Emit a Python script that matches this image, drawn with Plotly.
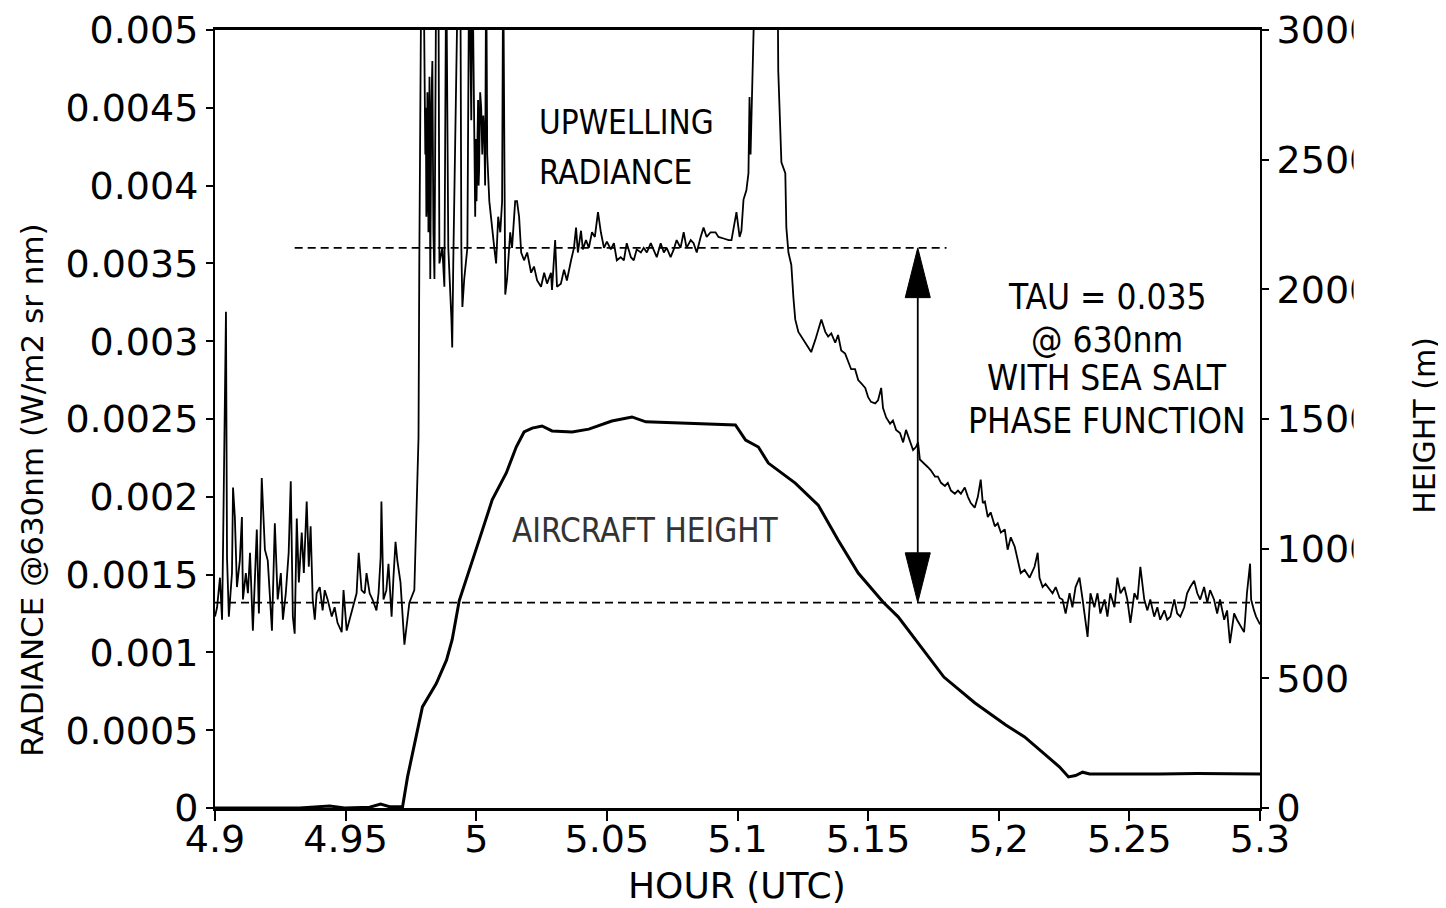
import plotly.graph_objects as go

# ---------------- data ----------------
# Upwelling radiance, low-level leg before the climb
TIME_SURFACE = [
    4.9000, 4.9008, 4.9019, 4.9027, 4.9031, 4.9038, 4.9042, 4.9046, 4.9053, 4.9065,
    4.9069, 4.9076, 4.9084, 4.9095, 4.9103, 4.9107, 4.9118, 4.9126, 4.9134, 4.9145,
    4.9153, 4.9160, 4.9168, 4.9179, 4.9191, 4.9202, 4.9218, 4.9229, 4.9240, 4.9252,
    4.9260, 4.9271, 4.9282, 4.9290, 4.9298, 4.9305, 4.9313, 4.9321, 4.9332, 4.9340,
    4.9351, 4.9359, 4.9366, 4.9374, 4.9382, 4.9389, 4.9401, 4.9412, 4.9420, 4.9431,
    4.9447, 4.9458, 4.9469, 4.9485, 4.9492, 4.9504, 4.9515, 4.9527, 4.9542, 4.9550,
    4.9561, 4.9573, 4.9580, 4.9592, 4.9603, 4.9618, 4.9626, 4.9634, 4.9637, 4.9645,
    4.9656, 4.9664, 4.9676, 4.9683, 4.9691, 4.9698, 4.9710, 4.9725, 4.9744, 4.9763,
    4.9775, 4.9779,
]
RAD_SURFACE = [
    0.00123, 0.00129, 0.00148, 0.00121, 0.00170, 0.00269, 0.00319, 0.00161, 0.00123, 0.00151,
    0.00206, 0.00187, 0.00142, 0.00159, 0.00187, 0.00134, 0.00151, 0.00138, 0.00164, 0.00114,
    0.00155, 0.00179, 0.00125, 0.00212, 0.00166, 0.00159, 0.00114, 0.00183, 0.00134, 0.00151,
    0.00121, 0.00138, 0.00164, 0.00210, 0.00123, 0.00112, 0.00186, 0.00145, 0.00177, 0.00151,
    0.00197, 0.00155, 0.00181, 0.00134, 0.00121, 0.00138, 0.00142, 0.00127, 0.00140, 0.00134,
    0.00123, 0.00129, 0.00119, 0.00113, 0.00140, 0.00114, 0.00121, 0.00129, 0.00138, 0.00164,
    0.00140, 0.00138, 0.00151, 0.00138, 0.00134, 0.00127, 0.00138, 0.00161, 0.00197, 0.00134,
    0.00140, 0.00157, 0.00123, 0.00148, 0.00171, 0.00159, 0.00145, 0.00105, 0.00132, 0.00140,
    0.00206, 0.00238,
]
# Upwelling radiance during the climb (off-scale spikes)
TIME_CLIMB = [
    4.9782, 4.9790, 4.9798, 4.9805, 4.9807, 4.9809, 4.9811, 4.9813, 4.9815, 4.9817,
    4.9819, 4.9821, 4.9824, 4.9828, 4.9832, 4.9836, 4.9840, 4.9843, 4.9847, 4.9855,
    4.9859, 4.9870, 4.9878, 4.9885, 4.9893, 4.9905, 4.9908, 4.9912, 4.9924, 4.9931,
    4.9939, 4.9943, 4.9947, 4.9954, 4.9966, 4.9973, 4.9981, 4.9985, 4.9996, 4.9998,
    5.0001, 5.0004, 5.0007, 5.0009, 5.0011, 5.0015, 5.0019, 5.0023, 5.0027, 5.0031,
    5.0034, 5.0038, 5.0042, 5.0050, 5.0061, 5.0069, 5.0076, 5.0084, 5.0092, 5.0099,
    5.0103, 5.0111, 5.0118, 5.0130, 5.0137, 5.0149, 5.0156, 5.0164,
]
RAD_CLIMB = [
    0.00350, 0.00550, 0.00550, 0.00420, 0.00450, 0.00380, 0.00390, 0.00460, 0.00440, 0.00370,
    0.00400, 0.00470, 0.00340, 0.00450, 0.00480, 0.00370, 0.00340, 0.00440, 0.00550, 0.00550,
    0.00350, 0.00360, 0.00335, 0.00550, 0.00360, 0.00314, 0.00296, 0.00350, 0.00472, 0.00550,
    0.00550, 0.00360, 0.00322, 0.00340, 0.00360, 0.00550, 0.00442, 0.00550, 0.00380, 0.00430,
    0.00390, 0.00440, 0.00455, 0.00400, 0.00410, 0.00460, 0.00450, 0.00420, 0.00445, 0.00430,
    0.00400, 0.00550, 0.00420, 0.00390, 0.00370, 0.00360, 0.00350, 0.00380, 0.00370, 0.00390,
    0.00550, 0.00330, 0.00340, 0.00370, 0.00360, 0.00390, 0.00390, 0.00380,
]
# Upwelling radiance at altitude, then during the descent
TIME_UPPER = [
    5.0172, 5.0183, 5.0195, 5.0210, 5.0221, 5.0233, 5.0248, 5.0260, 5.0271, 5.0286,
    5.0290, 5.0302, 5.0309, 5.0324, 5.0336, 5.0347, 5.0363, 5.0374, 5.0382, 5.0389,
    5.0401, 5.0408, 5.0420, 5.0431, 5.0443, 5.0454, 5.0466, 5.0477, 5.0489, 5.0500,
    5.0515, 5.0527, 5.0538, 5.0553, 5.0565, 5.0576, 5.0592, 5.0603, 5.0614, 5.0630,
    5.0641, 5.0653, 5.0668, 5.0679, 5.0691, 5.0706, 5.0718, 5.0729, 5.0744, 5.0756,
    5.0767, 5.0782, 5.0794, 5.0805, 5.0821, 5.0832, 5.0844, 5.0859, 5.0870, 5.0882,
    5.0897, 5.0916, 5.0927, 5.0947, 5.0966, 5.0977, 5.0989, 5.0996, 5.1008, 5.1015,
    5.1023, 5.1034, 5.1042, 5.1046, 5.1050, 5.1053, 5.1061, 5.1069, 5.1110, 5.1153,
    5.1156, 5.1168, 5.1183, 5.1187, 5.1195, 5.1206, 5.1214, 5.1221, 5.1233, 5.1244,
    5.1263, 5.1282, 5.1298, 5.1309, 5.1321, 5.1336, 5.1347, 5.1359, 5.1374, 5.1385,
    5.1397, 5.1412, 5.1424, 5.1435, 5.1450, 5.1462, 5.1473, 5.1489, 5.1500, 5.1511,
    5.1527, 5.1538, 5.1550, 5.1557, 5.1569, 5.1584, 5.1595, 5.1607, 5.1622, 5.1634,
    5.1645, 5.1660, 5.1672, 5.1683, 5.1691, 5.1698, 5.1718, 5.1729, 5.1740, 5.1756,
    5.1767, 5.1779, 5.1794, 5.1805, 5.1817, 5.1832, 5.1844, 5.1855, 5.1870, 5.1882,
    5.1893, 5.1908, 5.1920, 5.1931, 5.1939, 5.1947, 5.1958, 5.1969, 5.1985, 5.1996,
    5.2008, 5.2023, 5.2034, 5.2046, 5.2061, 5.2073, 5.2084, 5.2099, 5.2118, 5.2137,
    5.2149, 5.2156, 5.2168, 5.2179, 5.2195, 5.2206, 5.2218, 5.2233, 5.2244, 5.2256,
    5.2271, 5.2282, 5.2294, 5.2309, 5.2321, 5.2332, 5.2340, 5.2351, 5.2366, 5.2378,
    5.2389, 5.2405, 5.2416, 5.2427, 5.2443, 5.2454, 5.2466, 5.2481, 5.2492, 5.2504,
    5.2519, 5.2531, 5.2542, 5.2557, 5.2569, 5.2580, 5.2595, 5.2607, 5.2618, 5.2634,
    5.2645, 5.2657, 5.2672, 5.2683, 5.2695, 5.2710, 5.2721, 5.2733, 5.2748, 5.2760,
    5.2771, 5.2786, 5.2798, 5.2809, 5.2824, 5.2836, 5.2847, 5.2863, 5.2874, 5.2885,
    5.2901, 5.2912, 5.2924, 5.2939, 5.2943, 5.2950, 5.2962, 5.2966, 5.2977, 5.2985,
    5.3000,
]
RAD_UPPER = [
    0.00357, 0.00352, 0.00357, 0.00344, 0.00348, 0.00339, 0.00335, 0.00344, 0.00337, 0.00344,
    0.00333, 0.00365, 0.00335, 0.00337, 0.00346, 0.00339, 0.00352, 0.00360, 0.00373, 0.00357,
    0.00371, 0.00359, 0.00365, 0.00360, 0.00370, 0.00367, 0.00383, 0.00370, 0.00360, 0.00364,
    0.00359, 0.00363, 0.00352, 0.00354, 0.00352, 0.00363, 0.00354, 0.00352, 0.00359, 0.00357,
    0.00360, 0.00357, 0.00363, 0.00359, 0.00354, 0.00363, 0.00357, 0.00360, 0.00354, 0.00359,
    0.00365, 0.00360, 0.00370, 0.00360, 0.00365, 0.00363, 0.00357, 0.00367, 0.00373, 0.00367,
    0.00370, 0.00370, 0.00367, 0.00366, 0.00365, 0.00365, 0.00378, 0.00383, 0.00367, 0.00371,
    0.00391, 0.00397, 0.00408, 0.00457, 0.00420, 0.00440, 0.00474, 0.00550, 0.00600, 0.00550,
    0.00474, 0.00415, 0.00408, 0.00373, 0.00357, 0.00349, 0.00328, 0.00314, 0.00306, 0.00303,
    0.00298, 0.00293, 0.00301, 0.00307, 0.00314, 0.00306, 0.00303, 0.00305, 0.00299, 0.00304,
    0.00294, 0.00292, 0.00286, 0.00282, 0.00282, 0.00275, 0.00273, 0.00270, 0.00264, 0.00261,
    0.00260, 0.00262, 0.00270, 0.00257, 0.00251, 0.00247, 0.00249, 0.00243, 0.00241, 0.00235,
    0.00243, 0.00235, 0.00230, 0.00232, 0.00235, 0.00224, 0.00221, 0.00219, 0.00217, 0.00213,
    0.00213, 0.00209, 0.00207, 0.00209, 0.00204, 0.00202, 0.00204, 0.00202, 0.00206, 0.00200,
    0.00196, 0.00193, 0.00200, 0.00211, 0.00196, 0.00197, 0.00187, 0.00190, 0.00181, 0.00183,
    0.00177, 0.00179, 0.00166, 0.00174, 0.00168, 0.00159, 0.00151, 0.00153, 0.00148, 0.00155,
    0.00164, 0.00148, 0.00142, 0.00144, 0.00140, 0.00138, 0.00142, 0.00135, 0.00134, 0.00125,
    0.00138, 0.00129, 0.00142, 0.00148, 0.00134, 0.00121, 0.00110, 0.00138, 0.00129, 0.00138,
    0.00125, 0.00134, 0.00123, 0.00138, 0.00129, 0.00148, 0.00138, 0.00142, 0.00134, 0.00119,
    0.00138, 0.00134, 0.00155, 0.00134, 0.00127, 0.00134, 0.00123, 0.00129, 0.00121, 0.00127,
    0.00121, 0.00123, 0.00134, 0.00125, 0.00123, 0.00129, 0.00138, 0.00142, 0.00146, 0.00138,
    0.00134, 0.00142, 0.00132, 0.00140, 0.00134, 0.00125, 0.00134, 0.00121, 0.00127, 0.00106,
    0.00125, 0.00121, 0.00117, 0.00113, 0.00121, 0.00138, 0.00157, 0.00134, 0.00127, 0.00123,
    0.00118,
]

TIME_HGT = [
    4.9000, 4.9324, 4.9439, 4.9496, 4.9592, 4.9634, 4.9668, 4.9718, 4.9737, 4.9771,
    4.9794, 4.9847, 4.9886, 4.9908, 4.9935, 5.0011, 5.0061, 5.0115, 5.0153, 5.0183,
    5.0214, 5.0252, 5.0290, 5.0367, 5.0431, 5.0519, 5.0596, 5.0649, 5.0775, 5.0992,
    5.1031, 5.1080, 5.1118, 5.1168, 5.1221, 5.1309, 5.1385, 5.1462, 5.1557, 5.1615,
    5.1790, 5.1909, 5.2027, 5.2099, 5.2172, 5.2233, 5.2267, 5.2294, 5.2321, 5.2348,
    5.2615, 5.2760, 5.3000,
]
HEIGHT = [
    0, 0, 8, 0, 3, 15, 5, 5, 120, 275,
    390, 480, 570, 650, 800, 1033, 1188, 1292, 1392, 1450,
    1465, 1473, 1454, 1450, 1461, 1492, 1508, 1489, 1485, 1477,
    1419, 1392, 1330, 1292, 1253, 1168, 1033, 906, 794, 737,
    505, 405, 320, 274, 212, 158, 120, 125, 138, 131,
    131, 133, 131,
]

UPPER_LEVEL = 0.0036      # dashed reference level (aircraft at altitude)
UPPER_START, UPPER_END = 4.9305, 5.1800
LOWER_LEVEL = 0.00132     # dashed reference level (near sea surface)
ARROW_TIME = 5.169

X_TICKS = [4.9, 4.95, 5.0, 5.05, 5.1, 5.15, 5.2, 5.25, 5.3]
X_LABELS = ["4.9", "4.95", "5", "5.05", "5.1", "5.15", "5,2", "5.25", "5.3"]
Y_TICKS = [0, 0.0005, 0.001, 0.0015, 0.002, 0.0025, 0.003, 0.0035, 0.004, 0.0045, 0.005]
Y_LABELS = ["0", "0.0005", "0.001", "0.0015", "0.002", "0.0025", "0.003", "0.0035", "0.004", "0.0045", "0.005"]
Y2_TICKS = [0, 500, 1000, 1500, 2000, 2500, 3000]
Y2_LABELS = ["0", "500", "1000", "1500", "2000", "2500", "3000"]

TIME_RAD = TIME_SURFACE + TIME_CLIMB + TIME_UPPER
RADIANCE = RAD_SURFACE + RAD_CLIMB + RAD_UPPER
assert len(TIME_RAD) == len(RADIANCE) and len(TIME_HGT) == len(HEIGHT)

# ---------------- styling ----------------
INK = "#000000"
TICK_FONT = dict(family="DejaVu Sans", size=38, color=INK)
TITLE_FONT = "DejaVu Sans"
NOTE_FONT = "DejaVu Sans Condensed, Liberation Sans Narrow, Liberation Sans"
HEAD_LEN = 0.00032   # arrow head length (radiance units)
HEAD_HALF = 0.0048   # arrow head half width (hours)

fig = go.Figure()

fig.add_trace(go.Scatter(x=TIME_RAD, y=RADIANCE, mode="lines",
                         line=dict(color=INK, width=1.8), showlegend=False))
fig.add_trace(go.Scatter(x=TIME_HGT, y=HEIGHT, mode="lines", yaxis="y2",
                         line=dict(color=INK, width=3), showlegend=False))

# dashed reference levels
fig.add_trace(go.Scatter(x=[UPPER_START, UPPER_END], y=[UPPER_LEVEL, UPPER_LEVEL], mode="lines",
                         line=dict(color=INK, width=1.6, dash="8px,5px"), showlegend=False))
fig.add_trace(go.Scatter(x=[X_TICKS[0], X_TICKS[-1]], y=[LOWER_LEVEL, LOWER_LEVEL], mode="lines",
                         line=dict(color=INK, width=1.6, dash="8px,5px"), showlegend=False))

# double headed arrow between the two levels
shapes = [
    dict(type="line", xref="x", yref="y", x0=ARROW_TIME, x1=ARROW_TIME,
         y0=LOWER_LEVEL + HEAD_LEN, y1=UPPER_LEVEL - HEAD_LEN, line=dict(color=INK, width=1.8)),
    dict(type="path", xref="x", yref="y", fillcolor=INK, line=dict(color=INK, width=1),
         path=f"M {ARROW_TIME} {UPPER_LEVEL} L {ARROW_TIME - HEAD_HALF} {UPPER_LEVEL - HEAD_LEN} "
              f"L {ARROW_TIME + HEAD_HALF} {UPPER_LEVEL - HEAD_LEN} Z"),
    dict(type="path", xref="x", yref="y", fillcolor=INK, line=dict(color=INK, width=1),
         path=f"M {ARROW_TIME} {LOWER_LEVEL} L {ARROW_TIME - HEAD_HALF} {LOWER_LEVEL + HEAD_LEN} "
              f"L {ARROW_TIME + HEAD_HALF} {LOWER_LEVEL + HEAD_LEN} Z"),
    # the scanned original trims the last digit of the right-hand tick labels
    dict(type="rect", xref="paper", yref="paper", x0=1.0895, x1=1.1365, y0=0.25, y1=1.04,
         fillcolor="white", line=dict(width=0), layer="above"),
]

def note(text, x, y, size, xanchor="center", color=INK):
    return dict(text=text, x=x, y=y, xref="paper", yref="paper", showarrow=False,
                xanchor=xanchor, yanchor="middle", font=dict(family=NOTE_FONT, size=size, color=color))

annotations = [
    note("UPWELLING", 0.3081, 0.8817, 33, xanchor="left"),
    note("RADIANCE", 0.3081, 0.8162, 33, xanchor="left"),
    note("AIRCRAFT HEIGHT", 0.4124, 0.3573, 33, color="#333333"),
    note("TAU = 0.035", 0.8536, 0.6568, 35),
    note("@ 630nm", 0.8536, 0.6015, 35),
    note("WITH SEA SALT", 0.8536, 0.5527, 35),
    note("PHASE FUNCTION", 0.8536, 0.4974, 35),
    dict(text="RADIANCE @630nm (W/m2 sr nm)", x=-0.1751, y=0.409, xref="paper", yref="paper",
         showarrow=False, textangle=-90, xanchor="center", yanchor="middle",
         font=dict(family=TITLE_FONT, size=31, color=INK)),
    dict(text="HEIGHT (m)", x=1.1575, y=0.492, xref="paper", yref="paper",
         showarrow=False, textangle=-90, xanchor="center", yanchor="middle",
         font=dict(family=TITLE_FONT, size=30, color=INK)),
    dict(text="HOUR (UTC)", x=0.4995, y=-0.099, xref="paper", yref="paper",
         showarrow=False, xanchor="center", yanchor="middle",
         font=dict(family=TITLE_FONT, size=36, color=INK)),
]

axis_common = dict(showgrid=False, zeroline=False, showline=True, linecolor=INK,
                   ticks="outside", tickcolor=INK, tickfont=TICK_FONT, automargin=False)

# the page body adds an 8 px offset, so the figure is 8 px smaller than the window
fig.update_layout(
    width=1438, height=900,
    margin=dict(l=207, r=186, t=22, b=100, autoexpand=False),
    paper_bgcolor="white", plot_bgcolor="white",
    xaxis=dict(range=[X_TICKS[0], X_TICKS[-1]], tickvals=X_TICKS, ticktext=X_LABELS,
               linewidth=3, ticklen=10, tickwidth=2, mirror=True, ticklabelstandoff=-15,
               **axis_common),
    yaxis=dict(range=[Y_TICKS[0], Y_TICKS[-1]], tickvals=Y_TICKS, ticktext=Y_LABELS,
               linewidth=2, ticklen=7, tickwidth=2, **axis_common),
    yaxis2=dict(range=[Y2_TICKS[0], Y2_TICKS[-1]], tickvals=Y2_TICKS, ticktext=Y2_LABELS,
                overlaying="y", side="right", linewidth=2, ticklen=7, tickwidth=2, **axis_common),
    shapes=shapes,
    annotations=annotations,
)

fig.write_html("out.html")
